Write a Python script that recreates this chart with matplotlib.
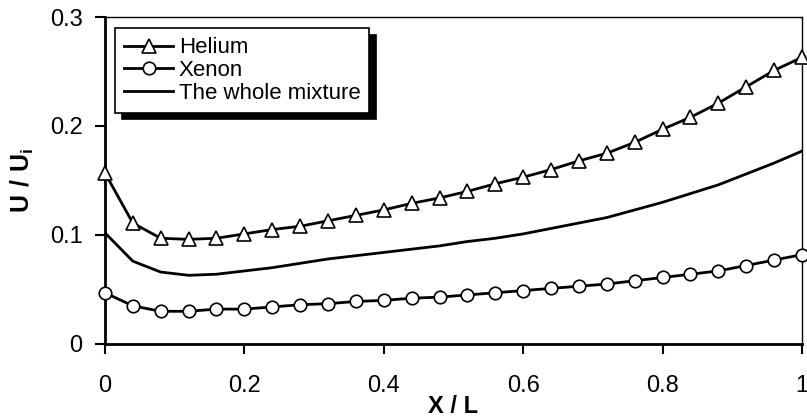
import matplotlib
matplotlib.use("Agg")
import matplotlib.pyplot as plt

plt.rcParams["font.family"] = ["Liberation Sans", "DejaVu Sans"]
plt.rcParams["mathtext.fontset"] = "custom"
plt.rcParams["mathtext.rm"] = "Liberation Sans"
plt.rcParams["mathtext.bf"] = "Liberation Sans:bold"

# --- Data ---
x = [0.00, 0.04, 0.08, 0.12, 0.16, 0.20, 0.24, 0.28, 0.32, 0.36, 0.40, 0.44, 0.48,
     0.52, 0.56, 0.60, 0.64, 0.68, 0.72, 0.76, 0.80, 0.84, 0.88, 0.92, 0.96, 1.00]
helium = [0.157, 0.111, 0.097, 0.096, 0.097, 0.101, 0.105, 0.108, 0.113, 0.118, 0.123,
          0.129, 0.134, 0.140, 0.147, 0.153, 0.160, 0.168, 0.175, 0.185, 0.197, 0.208,
          0.221, 0.236, 0.251, 0.263]
xenon = [0.047, 0.035, 0.030, 0.030, 0.032, 0.032, 0.034, 0.036, 0.037, 0.039, 0.040,
         0.042, 0.043, 0.045, 0.047, 0.049, 0.051, 0.053, 0.055, 0.058, 0.061, 0.064,
         0.067, 0.072, 0.077, 0.082]
mixture = [0.102, 0.076, 0.066, 0.063, 0.064, 0.067, 0.070, 0.074, 0.078, 0.081, 0.084,
           0.087, 0.090, 0.094, 0.097, 0.101, 0.106, 0.111, 0.116, 0.123, 0.130, 0.138,
           0.146, 0.156, 0.166, 0.177]

x_ticks = [0, 0.2, 0.4, 0.6, 0.8, 1]
x_ticklabels = ["0", "0.2", "0.4", "0.6", "0.8", "1"]
y_ticks = [0, 0.1, 0.2, 0.3]
y_ticklabels = ["0", "0.1", "0.2", "0.3"]

fig = plt.figure(figsize=(8.07, 4.20), dpi=100)
ax = fig.add_axes([0.130, 0.181, 0.8638, 0.7785])

ax.plot(x, helium, color="black", lw=2, marker="^", ms=10, mfc="white",
        mec="black", mew=1.2, label="Helium", clip_on=False, zorder=3)
ax.plot(x, xenon, color="black", lw=2, marker="o", ms=9, mfc="white",
        mec="black", mew=1.2, label="Xenon", clip_on=False, zorder=3)
ax.plot(x, mixture, color="black", lw=2, label="The whole mixture", zorder=2)

ax.set_xlim(0, 1)
ax.set_ylim(0, 0.3)
ax.set_xticks(x_ticks)
ax.set_xticklabels(x_ticklabels)
ax.set_yticks(y_ticks)
ax.set_yticklabels(y_ticklabels)
ax.tick_params(direction="out", length=7, width=1.5, labelsize=17)
ax.tick_params(axis="x", pad=15)
ax.tick_params(axis="y", pad=9)

for side in ["left", "bottom"]:
    ax.spines[side].set_linewidth(2)
for side in ["top", "right"]:
    ax.spines[side].set_linewidth(1)

ax.set_xlabel("X / L", fontsize=17, fontweight="bold", labelpad=-1)
ax.set_ylabel(r"$\mathbf{U\ /\ U_i}$", fontsize=18, labelpad=10)

leg = ax.legend(loc="upper left", bbox_to_anchor=(0.015, 0.965), fontsize=16,
                frameon=True, fancybox=False, edgecolor="black",
                shadow={"color": "black", "alpha": 1, "ox": 5, "oy": -4.5},
                handlelength=2.2, handletextpad=0.25, labelspacing=0.08,
                borderpad=0.4, borderaxespad=0)
leg.get_frame().set_linewidth(1.2)

fig.savefig("out.png", dpi=100)
